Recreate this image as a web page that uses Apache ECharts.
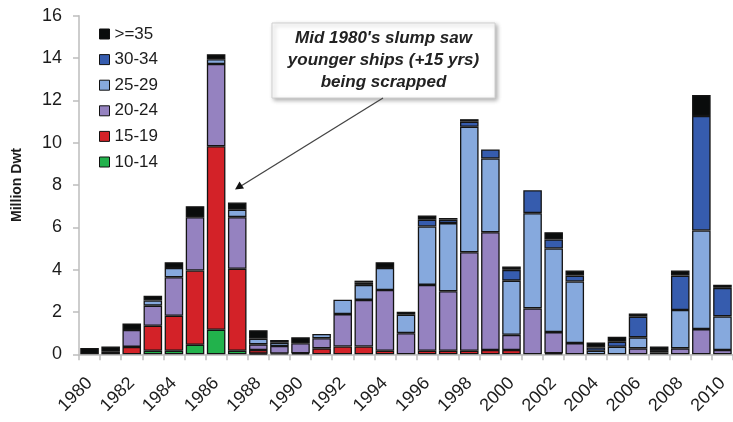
<!DOCTYPE html>
<html>
<head>
<meta charset="utf-8">
<script src="https://cdn.jsdelivr.net/npm/echarts@6/dist/echarts.min.js"></script>
<style>
html,body{margin:0;padding:0;background:#fff;}
#c{width:733px;height:422px;}
</style>
</head>
<body>
<div id="c"></div>
<script>
var years = ['1980','1981','1982','1983','1984','1985','1986','1987','1988','1989','1990','1991','1992','1993','1994','1995','1996','1997','1998','1999','2000','2001','2002','2003','2004','2005','2006','2007','2008','2009','2010'];
var age10_14 = [0,0,0,0.17,0.17,0.45,1.16,0.17,0.03,0,0,0,0,0,0,0,0,0,0,0,0,0,0,0,0,0,0,0,0,0,0];
var age15_19 = [0,0,0.35,1.18,1.65,3.51,8.67,3.87,0.17,0.04,0.05,0.28,0.37,0.37,0.17,0,0.17,0.17,0.17,0.2,0.2,0,0.05,0,0,0,0,0,0,0,0];
var age20_24 = [0,0.12,0.8,0.95,1.82,2.52,3.89,2.44,0.27,0.35,0.47,0.48,1.53,2.2,2.87,1.0,3.11,2.81,4.65,5.57,0.72,2.17,1.0,0.53,0,0,0.28,0,0.28,1.19,0.2];
var age25_29 = [0,0,0,0.24,0.44,0,0.22,0.35,0.27,0.16,0,0.2,0.68,0.71,1.04,0.87,2.76,3.22,5.93,3.48,2.56,4.5,3.95,2.91,0.17,0.36,0.52,0.09,1.81,4.66,1.59];
var age30_34 = [0,0,0,0,0,0,0,0,0,0,0,0,0,0.12,0,0,0.32,0.16,0.24,0.43,0.51,1.08,0.43,0.28,0.15,0.23,0.98,0.11,1.63,5.41,1.35];
var age35plus = [0.3,0.25,0.3,0.23,0.27,0.52,0.24,0.34,0.4,0.13,0.28,0,0,0.08,0.27,0.14,0.2,0.08,0.12,0,0.16,0,0.34,0.24,0.24,0.24,0.15,0.17,0.24,0.99,0.15];
var yTicks = [0,2,4,6,8,10,12,14,16];

var seriesDefs = [
  {name:'10-14', data:age10_14, color:'#22b24c'},
  {name:'15-19', data:age15_19, color:'#d32228'},
  {name:'20-24', data:age20_24, color:'#9582c0'},
  {name:'25-29', data:age25_29, color:'#86a9dd'},
  {name:'30-34', data:age30_34, color:'#365cae'},
  {name:'>=35', data:age35plus, color:'#0a0c0c'}
];

var chart = echarts.init(document.getElementById('c'), null, {renderer:'canvas'});
var fontFam = '"Liberation Sans", Arial, sans-serif';

var option = {
  animation:false,
  backgroundColor:'#fff',
  grid:{left:79, right:-5, top:15.7, bottom:67.7, containLabel:false},
  legend:{
    orient:'vertical', left:94, top:19,
    itemWidth:10, itemHeight:10, itemGap:5.6,
    icon:'rect',
    data:['>=35','30-34','25-29','20-24','15-19','10-14'],
    textStyle:{fontFamily:fontFam, fontSize:17, color:'#1c1c1c', lineHeight:20},
    itemStyle:{borderColor:'#111', borderWidth:1}
  },
  xAxis:{
    type:'category', data:years,
    axisLine:{lineStyle:{color:'#bdbdbd', width:1.5}},
    axisTick:{show:true, alignWithLabel:false, interval:0, length:6, lineStyle:{color:'#bdbdbd', width:1.5}},
    axisLabel:{interval:1, rotate:45, margin:26, fontFamily:fontFam, fontSize:18, color:'#1c1c1c'}
  },
  yAxis:{
    type:'value', min:yTicks[0], max:yTicks[yTicks.length-1], interval:2,
    name:'Million Dwt', nameLocation:'middle', nameGap:55, nameRotate:90,
    nameTextStyle:{fontFamily:fontFam, fontSize:14, fontWeight:'bold', color:'#1c1c1c'},
    axisLine:{show:true, lineStyle:{color:'#bdbdbd', width:1.5}},
    axisTick:{show:true, length:6, lineStyle:{color:'#bdbdbd', width:1.5}},
    axisLabel:{margin:17, fontFamily:fontFam, fontSize:18, color:'#1c1c1c'},
    splitLine:{show:false}
  },
  series: seriesDefs.map(function(s){
    return {
      name:s.name, type:'bar', stack:'total',
      barCategoryGap:'12%',
      data:s.data.map(function(v){return v>0?v:null;}),
      itemStyle:{color:s.color, borderColor:'#141414', borderWidth:1.3}
    };
  }),
  graphic:[
    {type:'rect', shape:{x:272, y:23, width:223, height:75},
     style:{fill:'#fff', stroke:'#d0d0d0', lineWidth:1, shadowBlur:4, shadowOffsetX:2, shadowOffsetY:2, shadowColor:'rgba(0,0,0,0.3)'}, z:100},
    {type:'text', x:383.5, y:60, z:101,
     style:{text:"Mid 1980's slump saw\nyounger ships (+15 yrs)\nbeing scrapped", align:'center', verticalAlign:'middle',
            font:'italic bold 17px "Liberation Sans", Arial, sans-serif', fill:'#222', lineHeight:22}},
    {type:'line', z:101, shape:{x1:383, y1:98, x2:241, y2:186}, style:{stroke:'#444', lineWidth:1.3}},
    {type:'polygon', z:101, shape:{points:[[235,189.5],[239.5,181.5],[244,188.5]]}, style:{fill:'#111'}}
  ]
};
chart.setOption(option);
</script>
</body>
</html>
